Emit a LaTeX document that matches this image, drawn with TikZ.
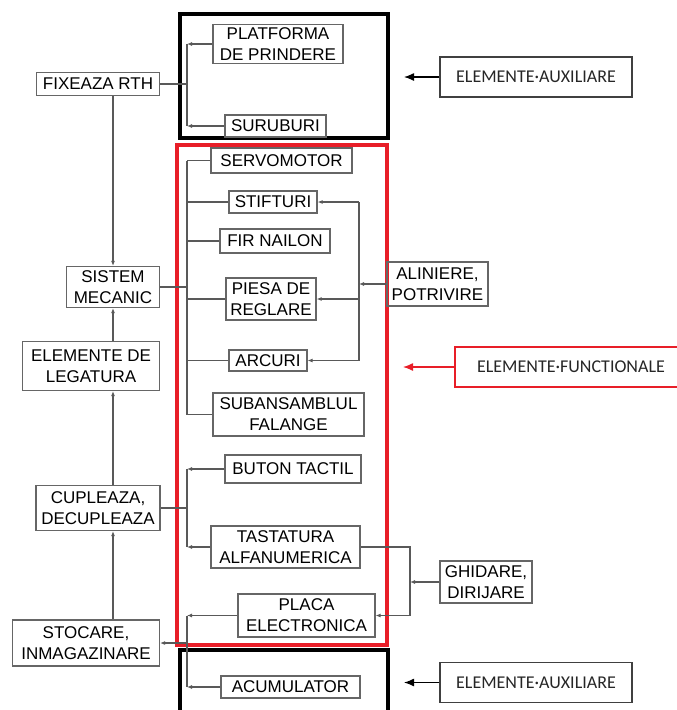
\documentclass[tikz,border=0pt]{standalone}
\usepackage{fontspec}
\setmainfont{Liberation Sans}
\newfontfamily\calib{Carlito}
\usetikzlibrary{arrows.meta}
\definecolor{rosu}{RGB}{232,30,40}

\begin{document}
\begin{tikzpicture}[x=1pt, y=-1pt]
\tikzset{bloc/.style={draw=black!60, line width=1.2pt, inner sep=0pt, align=center, text=black,
    font=\fontsize{17}{21}\selectfont},
  lien/.style={draw=black!65, line width=1.1pt},
  fl/.style={lien, -{Latex[length=5pt,width=4pt]}},
  eticheta/.style={draw=black!75, line width=1.3pt, inner sep=0pt, text=black!85,
    font=\calib\fontsize{18}{21}\selectfont, minimum height=40},
  sageata/.style={line width=1.3pt, -{Latex[length=10pt,width=8pt]}}}
\useasboundingbox (0,0) rectangle (677,710);
\clip (0,0) rectangle (677,710);
% grupuri
\draw[line width=3.5pt] (180,14) rectangle (388,138);
\draw[rosu, line width=3.5pt] (177,145) rectangle (387,645);
\draw[line width=3.5pt] (180,650) rectangle (388,730);
% coloana din stanga
\node[bloc, minimum width=123, minimum height=23] (FR) at (98,84) {FIXEAZA RTH};
\node[bloc, minimum width=93, minimum height=41] (SM) at (113,287) {SISTEM\\MECANIC};
\node[bloc, minimum width=137, minimum height=49] (EL) at (91,366) {ELEMENTE DE\\LEGATURA};
\node[bloc, minimum width=124, minimum height=45] (CD) at (98,508) {CUPLEAZA,\\DECUPLEAZA};
\node[bloc, minimum width=147, minimum height=46] (SI) at (86,643) {STOCARE,\\INMAGAZINARE};
% elemente auxiliare sus
\node[bloc, minimum width=130, minimum height=39] (PP) at (278,44) {PLATFORMA\\DE PRINDERE};
\node[bloc, minimum width=101, minimum height=22] (SU) at (275.5,126) {SURUBURI};
% elemente functionale
\node[bloc, minimum width=141, minimum height=25] (SV) at (281.5,160.5) {SERVOMOTOR};
\node[bloc, minimum width=88, minimum height=22] (ST) at (273,202) {STIFTURI};
\node[bloc, minimum width=110, minimum height=24] (FN) at (275,241) {FIR NAILON};
\node[bloc, minimum width=90, minimum height=42] (PR) at (271,299) {PIESA DE\\REGLARE};
\node[bloc, minimum width=78, minimum height=21] (AR) at (268,360.5) {ARCURI};
\node[bloc, minimum width=151, minimum height=43] (SF) at (288.5,414.5) {SUBANSAMBLUL\\FALANGE};
\node[bloc, minimum width=136, minimum height=28] (BT) at (293,469) {BUTON TACTIL};
\node[bloc, minimum width=149, minimum height=42] (TA) at (285.5,547) {TASTATURA\\ALFANUMERICA};
\node[bloc, minimum width=137, minimum height=43] (PE) at (306.5,615.5) {PLACA\\ELECTRONICA};
% elemente auxiliare jos
\node[bloc, minimum width=139, minimum height=22] (AC) at (290.5,687) {ACUMULATOR};
% functii din dreapta
\node[bloc, minimum width=101, minimum height=44] (AP) at (437.5,284) {ALINIERE,\\POTRIVIRE};
\node[bloc, minimum width=92, minimum height=42] (GD) at (486,582) {GHIDARE,\\DIRIJARE};
% etichete
\node[eticheta, minimum width=192] (EA1) at (536,77) {ELEMENTE·AUXILIARE};
\node[eticheta, draw=rosu, minimum width=232] (EF) at (571,367) {ELEMENTE·FUNCTIONALE};
\node[eticheta, minimum width=192] (EA2) at (536,682.5) {ELEMENTE·AUXILIARE};
\coordinate (t1) at (404,77);
\coordinate (t2) at (403,367);
\coordinate (t3) at (404,682.5);
\draw[sageata] (EA1) -- (t1);
\draw[sageata, rosu] (EF) -- (t2);
\draw[sageata] (EA2) -- (t3);
% lantul din stanga
\draw[fl] (FR.south -| SM) -- (SM.north);
\draw[fl] (EL.north -| SM) -- (SM.south);
\draw[fl] (CD.north -| SM) -- (EL.south -| SM);
\draw[fl] (SI.north -| SM) -- (CD.south -| SM);
% magistrala sus
\coordinate (p0) at (187,84);
\coordinate (p1) at (187,44);
\coordinate (p2) at (187,126);
\draw[lien] (FR) -- (p0);
\draw[lien] (p1) -- (p2);
\draw[fl] (PP) -- (p1);
\draw[fl] (SU) -- (p2);
% magistrala sistem mecanic
\coordinate (m1) at (187,160.5);
\coordinate (m2) at (187,414.5);
\draw[lien] (m1) -- (m2);
\draw[lien] (SM) -- (SM -| m1);
\draw[lien] (SV) -- (m1);
\draw[lien] (ST) -- (ST -| m1);
\draw[lien] (FN) -- (FN -| m1);
\draw[lien] (PR) -- (PR -| m1);
\draw[lien] (AR) -- (AR -| m1);
\draw[lien] (SF) -- (m2);
% aliniere, potrivire
\coordinate (a1) at (359,202);
\coordinate (a2) at (359,360.5);
\draw[lien] (a1) -- (a2);
\draw[fl] (AP) -- (AP -| a1);
\draw[fl] (a1) -- (ST);
\draw[fl] (PR -| a1) -- (PR);
\draw[fl] (a2) -- (AR);
% cupleaza, decupleaza
\coordinate (c1) at (187,469);
\coordinate (c2) at (187,547);
\draw[lien] (c1) -- (c2);
\draw[lien] (CD) -- (CD -| c1);
\draw[fl] (BT) -- (c1);
\draw[fl] (TA) -- (c2);
% stocare
\coordinate (d1) at (187,615.5);
\coordinate (d2) at (187,687);
\draw[lien] (d1) -- (d2);
\draw[fl] (PE) -- (d1);
\draw[fl] (AC) -- (d2);
\draw[fl] (SI -| d1) -- (SI);
% ghidare, dirijare
\coordinate (g1) at (410,547);
\coordinate (g2) at (410,615.5);
\draw[lien] (TA) -- (g1) -- (g2);
\draw[fl] (g2) -- (PE);
\draw[fl] (GD) -- (GD -| g1);
\end{tikzpicture}
\end{document}
